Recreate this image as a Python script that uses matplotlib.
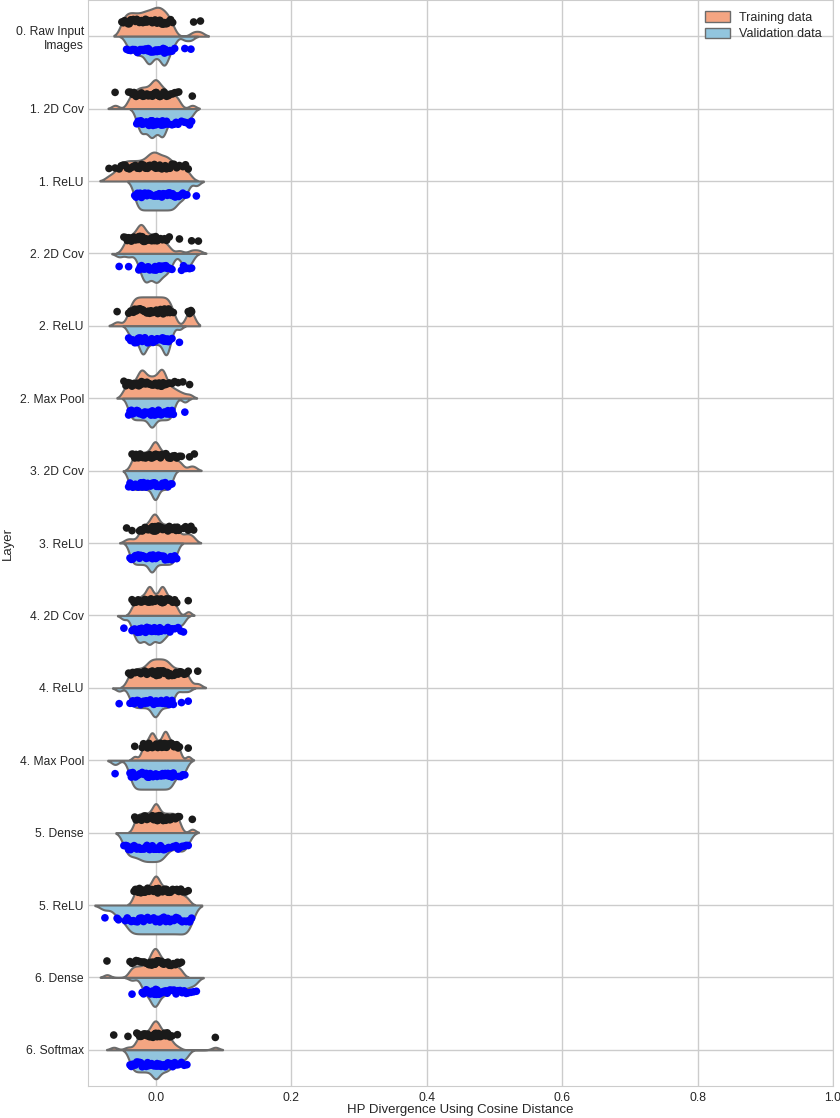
import numpy as np
import pandas as pd
import matplotlib
matplotlib.use("Agg")
import matplotlib.pyplot as plt
from matplotlib.patches import Patch
import seaborn as sns

layers = ["0. Raw Input\nImages", "1. 2D Cov", "1. ReLU", "2. 2D Cov", "2. ReLU",
          "2. Max Pool", "3. 2D Cov", "3. ReLU", "4. 2D Cov", "4. ReLU",
          "4. Max Pool", "5. Dense", "5. ReLU", "6. Dense", "6. Softmax"]

# values in thousandths of cosine-distance HP divergence
train_milli = [
    [-50,-48,-46,-44,-41,-39,-37,-35,-33,-30,-28,-26,-24,-21,-19,-17,-15,-13,-11,-9,-7,-5,-3,-1,0,2,4,6,7,9,11,13,15,17,20,22,25,56,66],
    [-60,-40,-37,-34,-32,-29,-27,-25,-23,-21,-19,-17,-15,-13,-11,-9,-7,-5,-4,-2,-1,0,1,3,4,6,8,10,12,14,16,19,22,25,28,31,34,54],
    [-69,-60,-54,-51,-48,-45,-42,-39,-36,-33,-30,-27,-24,-21,-18,-15,-12,-10,-8,-6,-4,-2,0,2,4,6,9,12,14,16,18,21,24,27,31,35,40,44,48],
    [-47,-44,-42,-40,-38,-36,-34,-32,-30,-28,-26,-25,-24,-23,-22,-21,-20,-19,-18,-16,-14,-12,-10,-8,-6,-4,-2,0,2,4,7,10,13,16,20,35,53,63],
    [-57,-40,-37,-35,-33,-31,-29,-27,-25,-23,-21,-19,-17,-15,-13,-11,-9,-7,-5,-3,-1,1,3,5,7,9,11,13,15,17,19,21,23,26,48,50,52,53],
    [-47,-44,-41,-38,-35,-32,-29,-27,-25,-23,-22,-21,-20,-19,-17,-15,-13,-11,-9,-7,-5,-3,-1,1,3,5,7,8,9,10,11,12,14,17,20,24,28,33,40,50],
    [-35,-33,-31,-29,-27,-25,-23,-21,-19,-17,-15,-13,-11,-9,-7,-5,-4,-3,-2,-1,0,1,2,3,5,7,9,11,13,15,17,19,22,25,28,31,35,38,50,57],
    [-43,-35,-24,-22,-20,-18,-16,-14,-12,-10,-8,-6,-5,-4,-3,-2,-1,0,1,2,4,6,8,10,12,14,16,18,20,22,24,26,28,30,32,34,41,44,48,52,56],
    [-35,-32,-29,-26,-24,-22,-20,-18,-16,-14,-12,-11,-10,-9,-8,-7,-5,-3,-1,1,3,5,7,8,9,10,11,12,14,16,18,20,22,25,28,31,48],
    [-40,-37,-34,-31,-28,-25,-22,-19,-16,-13,-11,-9,-7,-5,-3,-1,1,3,5,7,9,11,13,15,17,19,21,24,27,30,33,36,39,42,45,48,62],
    [-31,-20,-18,-16,-14,-12,-10,-8,-7,-6,-5,-4,-3,-1,1,3,5,7,9,11,12,13,14,15,16,17,19,21,23,25,27,29,31,33,35,48],
    [-31,-29,-27,-25,-23,-21,-19,-17,-15,-13,-11,-9,-7,-5,-3,-2,-1,0,1,2,3,5,7,9,11,13,15,17,19,21,23,25,27,29,31,33,35,54],
    [-32,-30,-28,-26,-24,-22,-20,-18,-16,-14,-12,-10,-8,-6,-4,-3,-2,-1,0,1,2,3,4,6,8,10,12,14,16,18,20,22,25,28,31,34,37,40,44,48],
    [-72,-38,-35,-32,-29,-26,-23,-20,-17,-14,-12,-10,-8,-6,-5,-4,-3,-2,-1,0,1,2,3,4,6,8,10,12,14,16,18,20,23,26,29,32,35,38],
    [-62,-41,-28,-26,-24,-22,-20,-18,-16,-14,-12,-10,-8,-6,-5,-4,-3,-2,-1,0,1,2,3,4,5,7,9,11,13,15,17,19,21,24,32,88],
]

val_milli = [
    [-43,-40,-37,-34,-31,-29,-27,-25,-23,-20,-18,-16,-14,-12,-11,-10,-9,-8,-6,-4,-2,0,2,4,6,8,10,11,12,13,14,15,17,19,21,24,28,43,52],
    [-28,-26,-24,-22,-21,-20,-18,-16,-14,-12,-10,-8,-7,-6,-5,-4,-2,0,2,4,6,8,9,10,11,12,14,16,19,24,27,30,33,38,42,45,50,53],
    [-31,-29,-27,-25,-23,-21,-19,-17,-15,-13,-11,-9,-7,-5,-3,-1,1,3,5,7,9,11,13,15,17,19,21,23,25,27,29,31,34,37,40,43,46,60],
    [-54,-40,-25,-23,-21,-19,-17,-16,-15,-14,-13,-11,-9,-7,-5,-3,-1,0,1,2,3,5,7,9,11,13,15,17,19,22,24,38,41,44,47,50,53],
    [-40,-37,-34,-31,-28,-26,-24,-22,-21,-20,-19,-18,-17,-16,-14,-12,-10,-8,-6,-4,-2,0,2,4,6,8,10,12,13,14,15,16,17,18,19,21,24,35],
    [-40,-38,-36,-34,-32,-30,-28,-26,-24,-22,-20,-18,-16,-14,-12,-10,-8,-7,-6,-5,-4,-2,0,2,4,6,8,10,12,14,16,18,20,22,24,26,43],
    [-40,-38,-36,-34,-32,-30,-28,-26,-24,-22,-20,-18,-16,-14,-12,-10,-8,-6,-4,-3,-2,-1,0,1,2,4,6,8,10,12,14,16,18,20,22,24],
    [-38,-36,-34,-32,-30,-28,-26,-24,-22,-20,-18,-16,-14,-12,-10,-8,-7,-6,-5,-4,-2,0,2,4,6,8,10,12,14,16,18,20,22,24,26,28,31],
    [-47,-35,-33,-31,-29,-27,-25,-24,-23,-21,-19,-17,-15,-13,-11,-10,-9,-8,-6,-4,-2,0,2,4,5,6,8,10,12,14,16,18,21,24,28,33,37,41],
    [-54,-38,-36,-34,-32,-30,-28,-26,-24,-22,-20,-18,-16,-14,-12,-10,-8,-6,-4,-3,-2,-1,0,1,2,4,6,8,10,12,14,16,18,20,22,24,26,38,48],
    [-60,-38,-36,-34,-32,-30,-28,-26,-24,-22,-20,-18,-16,-14,-12,-10,-8,-6,-4,-2,0,2,4,6,8,10,12,14,16,18,20,22,24,26,28,34,37,40,43],
    [-47,-44,-42,-40,-37,-35,-32,-30,-28,-25,-23,-21,-19,-17,-15,-13,-11,-9,-7,-5,-3,-1,1,3,5,7,9,11,13,16,19,22,26,30,33,36,39,42,45,48],
    [-75,-57,-55,-45,-42,-39,-36,-33,-30,-27,-24,-21,-18,-15,-12,-9,-6,-3,0,3,6,9,12,15,18,21,24,27,30,33,36,39,42,45,48,50,53],
    [-35,-20,-18,-16,-14,-12,-10,-8,-6,-5,-4,-3,-2,-1,0,1,2,3,5,7,9,11,13,15,17,19,21,24,27,30,33,36,39,42,45,48,52,56,60],
    [-38,-36,-34,-32,-30,-28,-26,-24,-22,-20,-18,-16,-14,-12,-10,-8,-6,-4,-2,-1,0,1,2,4,6,8,10,12,14,16,18,20,22,25,28,31,34,38,42,46],
]

set_names = ["Training data", "Validation data"]
violin_colors = ["#F4A582", "#92C5DE"]
point_colors = ["#1a1a1a", "#0000FF"]

rows = []
for lname, tr, va in zip(layers, train_milli, val_milli):
    for v in tr:
        rows.append((lname, set_names[0], v / 1000.0))
    for v in va:
        rows.append((lname, set_names[1], v / 1000.0))
df = pd.DataFrame(rows, columns=["layer", "set", "value"])

sns.set_style("whitegrid", {"axes.edgecolor": ".8", "grid.color": ".8"})
plt.rcParams["font.family"] = ["Liberation Sans", "DejaVu Sans"]
plt.rcParams["text.color"] = ".15"

fig, ax = plt.subplots(figsize=(8.4, 11.18), dpi=100)
fig.subplots_adjust(left=88 / 840, right=833 / 840, top=1.0, bottom=1 - 1086 / 1118)

sns.violinplot(data=df, x="value", y="layer", hue="set", order=layers,
               hue_order=set_names, split=True, inner=None, bw_method=0.22,
               cut=2, density_norm="width", palette=violin_colors,
               saturation=1, linewidth=1.5, linecolor="#6b6b6b", ax=ax,
               orient="h")
np.random.seed(3)
sns.stripplot(data=df, x="value", y="layer", hue="set", order=layers,
              hue_order=set_names, dodge=True, jitter=0.07,
              palette=point_colors, size=5.5, ax=ax, orient="h", legend=False)

if ax.get_legend() is not None:
    ax.get_legend().remove()

ax.set_xlim(-0.1, 1.0)
ax.set_ylim(len(layers) - 0.5, -0.5)
ax.set_xticks([0.0, 0.2, 0.4, 0.6, 0.8, 1.0])
ax.set_xticklabels(["0.0", "0.2", "0.4", "0.6", "0.8", "1.0"])
ax.tick_params(axis="both", labelsize=8.7, colors=".15", length=0)
ax.tick_params(axis="x", pad=4)
ax.tick_params(axis="y", pad=3)
ax.set_xlabel("HP Divergence Using Cosine Distance", fontsize=9.5, color=".15", labelpad=0)
ax.set_ylabel("Layer", fontsize=9.5, color=".15")
ax.yaxis.set_label_coords((14 - 88) / 745, 0.5)
for t in ax.get_yticklabels():
    t.set_ha("right")
    t.set_multialignment("right")
ax.grid(True, color=".8", linewidth=1)
ax.set_axisbelow(True)
for s in ax.spines.values():
    s.set_color(".8")

handles = [Patch(facecolor=violin_colors[0], edgecolor="#6b6b6b", linewidth=1),
           Patch(facecolor=violin_colors[1], edgecolor="#6b6b6b", linewidth=1)]
ax.legend(handles, set_names, loc="upper right", frameon=False, fontsize=9,
          handlelength=2.0, handleheight=0.9, handletextpad=0.75,
          labelspacing=0.3, borderaxespad=0.5)

fig.savefig("out.png", dpi=100)
